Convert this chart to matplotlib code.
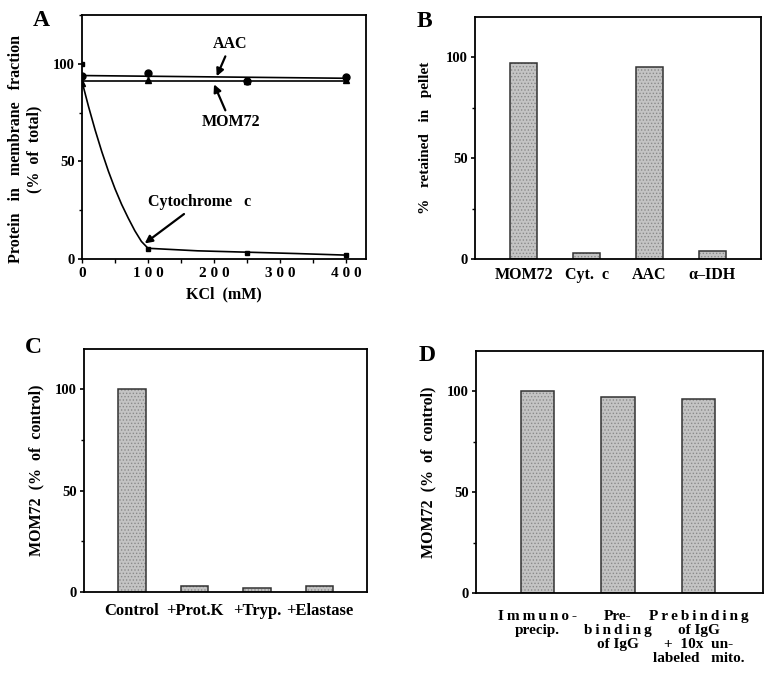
import numpy as np
import matplotlib.pyplot as plt
from matplotlib.ticker import MultipleLocator

plt.rcParams['font.family'] = ['Liberation Serif', 'DejaVu Serif']
plt.rcParams['font.weight'] = 'bold'
plt.rcParams['axes.labelweight'] = 'bold'
plt.rcParams['hatch.linewidth'] = 0.6

T = '\u2009'  # thin space, used for the letter-spaced labels

# Panel A: membrane fraction vs KCl
kcl_mM = [0, 100, 250, 400]
aac_pts = [94, 95.5, 91.3, 93.5]
mom72_pts = [90, 91.8, 91, 91.8]
cytc_pts = [100, 5, 3.2, 2]
# fitted lines
aac_fit_x = [0, 400]
aac_fit_y = [94, 92.6]
mom72_fit_x = [0, 400]
mom72_fit_y = [91, 91]
cytc_fit_x = [0, 10, 20, 30, 40, 50, 60, 70, 80, 90, 100, 175, 250, 325, 400]
cytc_fit_y = [91, 78, 66, 55, 45, 36, 28, 21, 14.5, 9, 5.5, 4.2, 3.5, 2.8, 2]

# Panel B
b_labels = ['MOM72', 'Cyt.  c', 'AAC', 'α–IDH']
b_values = [97, 3, 95, 4]

# Panel C
c_labels = ['Control', '+Prot.K', '+Tryp.', '+Elastase']
c_values = [100, 3, 2, 3]

# Panel D
d_labels = [T.join('Immuno-') + '\nprecip.',
            'Pre-\n' + T.join('binding') + '\nof IgG',
            T.join('Prebinding') + '\nof IgG\n+  10x  un-\nlabeled   mito.']
d_values = [100, 97, 96]

FS = 10.5


def style_axes(ax, ymax=120):
    ax.set_ylim(0, ymax)
    ax.yaxis.set_major_locator(MultipleLocator(50))
    ax.yaxis.set_minor_locator(MultipleLocator(25))
    for s in ax.spines.values():
        s.set_linewidth(1.3)
    ax.tick_params(axis='y', which='major', direction='out', length=3, width=1.2,
                   labelsize=FS, pad=2)
    ax.tick_params(axis='y', which='minor', direction='out', length=2, width=1.0)


def bar_panel(ax, labels, values, width, xlim, label_fs=FS, pad=6):
    x = np.arange(len(values))
    ax.bar(x, values, width=width, color='#c4c4c4', hatch='.....',
           edgecolor='#8a8a8a', linewidth=0)
    ax.bar(x, values, width=width, fill=False, edgecolor='#333333', linewidth=1.1)
    ax.set_xlim(*xlim)
    ax.set_xticks(x)
    ax.set_xticklabels(labels, fontsize=label_fs, linespacing=1.1, va='top')
    ax.tick_params(axis='x', length=0, pad=pad)
    style_axes(ax)


fig = plt.figure(figsize=(7.64, 6.77), dpi=100)

# ---- A ----
axA = fig.add_axes([0.1073, 0.6174, 0.3717, 0.3604])
axA.plot(aac_fit_x, aac_fit_y, color='black', lw=1.2)
axA.plot(mom72_fit_x, mom72_fit_y, color='black', lw=1.2)
axA.plot(cytc_fit_x, cytc_fit_y, color='black', lw=1.2)
axA.plot(kcl_mM, aac_pts, 'o', color='black', ms=5)
axA.plot(kcl_mM, mom72_pts, '^', color='black', ms=5)
axA.plot(kcl_mM, cytc_pts, 's', color='black', ms=3.5)
axA.set_xlim(0, 430)
style_axes(axA, 125)
axA.xaxis.set_minor_locator(MultipleLocator(50))
axA.set_xticks([0, 100, 200, 300, 400])
axA.set_xticklabels(['0', '1 0 0', '2 0 0', '3 0 0', '4 0 0'])
axA.tick_params(axis='x', which='both', direction='out', length=3, width=1.0,
                labelsize=FS + 0.5, pad=3)
axA.set_xlabel('KCl  (mM)', fontsize=FS + 1, labelpad=4)
axA.set_ylabel('Protein   in   membrane   fraction\n(%  of  total)',
               fontsize=FS + 1, linespacing=1.15)
axA.yaxis.set_label_coords(-0.14, 0.45)

arrow = dict(arrowstyle='-|>', color='black', lw=1.6, mutation_scale=11,
             shrinkA=1, shrinkB=0)
axA.annotate('AAC', xy=(204, 93.6), xytext=(225, 110), fontsize=FS + 1,
             ha='center', va='center', arrowprops=arrow)
axA.annotate('MOM72', xy=(200, 89.5), xytext=(225, 70), fontsize=FS + 1,
             ha='center', va='center', arrowprops=arrow)
axA.annotate('Cytochrome   c', xy=(95, 8), xytext=(178, 29), fontsize=FS + 1,
             ha='center', va='center', arrowprops=arrow)

# ---- B ----
axB = fig.add_axes([0.6217, 0.6174, 0.3743, 0.3575])
bar_panel(axB, b_labels, b_values, 0.43, (-0.78, 3.78), label_fs=FS + 1)
axB.set_ylabel('%   retained   in   pellet', fontsize=FS + 0.5, labelpad=10)

# ---- C ----
axC = fig.add_axes([0.1099, 0.1256, 0.3704, 0.3589])
bar_panel(axC, c_labels, c_values, 0.44, (-0.77, 3.76), label_fs=FS + 1.5, pad=8)
axC.set_ylabel('MOM72  (%  of  control)', fontsize=FS + 1, labelpad=8)

# ---- D ----
axD = fig.add_axes([0.623, 0.1241, 0.376, 0.3575])
bar_panel(axD, d_labels, d_values, 0.41, (-0.76, 2.8), label_fs=FS + 0.5, pad=12)
axD.set_ylabel('MOM72  (%  of  control)', fontsize=FS + 1, labelpad=8)

# panel letters
for lbl, (px, py) in {'A': (33, 26), 'B': (417, 27), 'C': (25, 353), 'D': (419, 361)}.items():
    fig.text(px / 764, 1 - py / 677, lbl, fontsize=17, fontweight='bold')

fig.savefig('out.png', dpi=100)
